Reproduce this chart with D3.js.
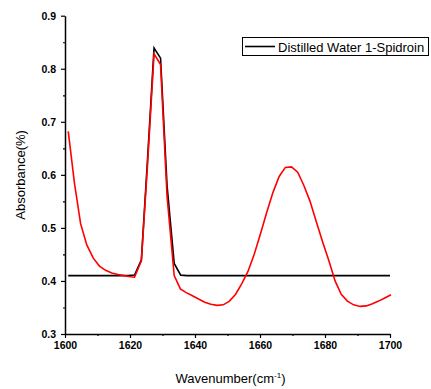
<!DOCTYPE html>
<html>
<head>
<meta charset="utf-8">
<script src="https://cdn.jsdelivr.net/npm/d3@7"></script>
<style>
  html, body { margin: 0; padding: 0; background: #fff; }
  svg { display: block; }
</style>
</head>
<body>
<svg id="chart" width="431" height="389"></svg>
<script>
// Amide I region of the FTIR spectrum
const blackWavenumber = [1601.0, 1619.4, 1621.4, 1623.5, 1625.4, 1627.4, 1629.4, 1631.4, 1633.6, 1635.6, 1637.5, 1700.0];
const blackAbsorbance = [0.410, 0.410, 0.411, 0.440, 0.630, 0.839, 0.820, 0.580, 0.433, 0.411, 0.410, 0.410];

const redWavenumber = [1601.0, 1602.9, 1604.8, 1606.7, 1608.7, 1610.6, 1612.5, 1614.4, 1616.3, 1618.2, 1620.2, 1621.4,
  1623.5, 1625.4, 1627.4, 1629.4, 1631.4, 1633.6, 1635.5, 1637.3, 1639.2, 1641.1, 1643.0, 1644.9, 1646.8,
  1648.7, 1650.6, 1652.5, 1654.4, 1656.3, 1658.2, 1660.2, 1662.1, 1664.0, 1665.9, 1667.8, 1669.7, 1671.6,
  1673.5, 1675.4, 1677.4, 1679.3, 1681.2, 1683.1, 1685.0, 1686.9, 1688.8, 1690.8, 1692.7, 1694.6, 1696.5,
  1698.4, 1700.3];
const redAbsorbance = [0.682, 0.585, 0.508, 0.468, 0.443, 0.428, 0.420, 0.415, 0.412, 0.410, 0.408, 0.407,
  0.438, 0.620, 0.828, 0.808, 0.560, 0.410, 0.385, 0.378, 0.372, 0.366, 0.360, 0.356, 0.354,
  0.355, 0.362, 0.375, 0.395, 0.418, 0.450, 0.490, 0.530, 0.567, 0.597, 0.614, 0.615, 0.605,
  0.580, 0.550, 0.510, 0.473, 0.438, 0.400, 0.375, 0.362, 0.355, 0.352, 0.353, 0.357, 0.362,
  0.368, 0.374];

const xTickValues = [1600, 1620, 1640, 1660, 1680, 1700];
const yTickValues = [0.3, 0.4, 0.5, 0.6, 0.7, 0.8, 0.9];
const legendLabel = "Distilled Water 1-Spidroin";
const xTitle = "Wavenumber(cm";
const xTitleSup = "-1";
const yTitle = "Absorbance(%)";

const svg = d3.select("#chart");
const plotLeft = 65, plotRight = 390, plotTop = 15.7, plotBottom = 334;

const x = d3.scaleLinear().domain([1600, 1700]).range([plotLeft, plotRight]);
const y = d3.scaleLinear().domain([0.3, 0.9]).range([plotBottom, plotTop]);

const labelFont = "'Liberation Sans', Arial, sans-serif";

// minor ticks
const xMinor = d3.range(1610, 1700, 20);
const yMinor = d3.range(0.35, 0.9, 0.1);

const xAxis = svg.append("g").attr("transform", `translate(0,${plotBottom})`)
  .call(d3.axisBottom(x).tickValues(xTickValues).tickFormat(d3.format("d")).tickSize(4).tickSizeOuter(0).tickPadding(4));
const yAxis = svg.append("g").attr("transform", `translate(${plotLeft},0)`)
  .call(d3.axisLeft(y).tickValues(yTickValues).tickFormat(d3.format(".1f")).tickSize(4).tickSizeOuter(0).tickPadding(5));

svg.append("g").attr("transform", `translate(0,${plotBottom})`)
  .call(d3.axisBottom(x).tickValues(xMinor).tickFormat("").tickSize(2).tickSizeOuter(0))
  .select(".domain").remove();
svg.append("g").attr("transform", `translate(${plotLeft},0)`)
  .call(d3.axisLeft(y).tickValues(yMinor).tickFormat("").tickSize(2).tickSizeOuter(0))
  .select(".domain").remove();

svg.selectAll(".domain").attr("stroke", "#000").attr("stroke-width", 1.5);
svg.selectAll(".tick line").attr("stroke", "#000").attr("stroke-width", 1.2);
[xAxis, yAxis].forEach(g => g.selectAll("text")
  .attr("font-family", labelFont).attr("font-size", 10.5).attr("font-weight", "bold").attr("fill", "#000"));

// spectra
const line = d3.line().x(d => x(d[0])).y(d => y(d[1]));
svg.append("path")
  .datum(d3.zip(blackWavenumber, blackAbsorbance))
  .attr("d", line).attr("fill", "none").attr("stroke", "#000").attr("stroke-width", 1.6);
svg.append("path")
  .datum(d3.zip(redWavenumber, redAbsorbance))
  .attr("d", line).attr("fill", "none").attr("stroke", "#ff0000").attr("stroke-width", 1.6);

// axis titles
const xt = svg.append("text")
  .attr("x", (plotLeft + plotRight) / 2 + 3).attr("y", 383)
  .attr("text-anchor", "middle")
  .attr("font-family", labelFont).attr("font-size", 13).attr("fill", "#000");
xt.append("tspan").text(xTitle);
xt.append("tspan").attr("font-size", 8).attr("dy", -5).text(xTitleSup);
xt.append("tspan").attr("dy", 5).text(")");

svg.append("text")
  .attr("transform", `translate(25,${(plotTop + plotBottom) / 2}) rotate(-90)`)
  .attr("text-anchor", "middle")
  .attr("font-family", labelFont).attr("font-size", 13).attr("fill", "#000")
  .text(yTitle);

// legend
const lg = svg.append("g");
lg.append("rect").attr("x", 242.5).attr("y", 37.5).attr("width", 186).attr("height", 18)
  .attr("fill", "#fff").attr("stroke", "#000").attr("stroke-width", 1);
lg.append("line").attr("x1", 245).attr("x2", 275).attr("y1", 46.5).attr("y2", 46.5)
  .attr("stroke", "#000").attr("stroke-width", 1.6);
lg.append("text").attr("x", 278).attr("y", 51.5)
  .attr("font-family", labelFont).attr("font-size", 13).attr("fill", "#000")
  .text(legendLabel);
</script>
</body>
</html>
